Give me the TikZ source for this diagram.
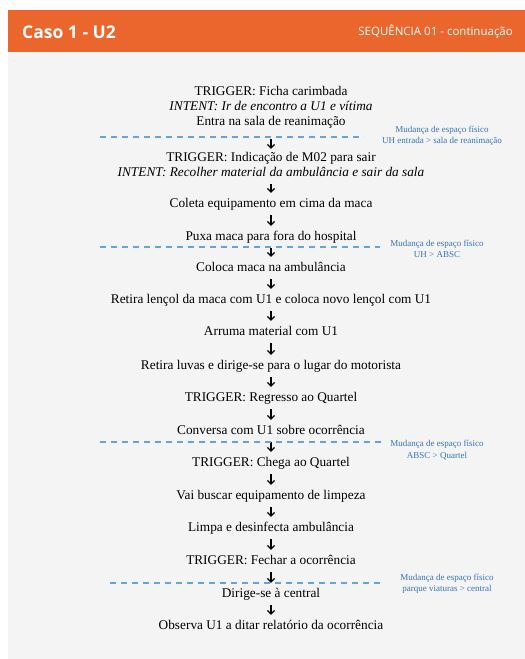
\documentclass[tikz,border=0pt]{standalone}
\usepackage{fontspec}
\setmainfont{Liberation Serif}
\newfontfamily\headfont{Open Sans}
\usetikzlibrary{arrows.meta}

\definecolor{headorange}{RGB}{234,102,44}
\definecolor{panelgray}{RGB}{244,244,244}
\definecolor{sepblue}{RGB}{105,162,215}
\definecolor{noteblue}{RGB}{55,115,185}

\begin{document}
\begin{tikzpicture}[x=1pt,y=-1pt,
  stepnode/.style={inner sep=0pt, text height=9pt, text depth=3pt,
    font=\fontsize{13.3}{15}\selectfont, text=black},
  intentnode/.style={stepnode, font=\fontsize{13.3}{15}\selectfont\itshape},
  flow/.style={-{Straight Barb[length=3.5pt,width=7pt,line width=1.2pt]}, line width=1.2pt,
    shorten <=5pt, shorten >=5pt},
  sepline/.style={sepblue, line width=1.1pt, dash pattern=on 6pt off 5pt},
  note/.style={noteblue, font=\fontsize{9}{11.5}\selectfont, align=center, inner sep=0pt},
]
\useasboundingbox (0,0) rectangle (525,659);

% page background, header bar and content panel
\fill[white] (0,0) rectangle (525,659);
\fill[panelgray] (8,52) rectangle (525,659);
\fill[headorange] (8,10) rectangle (525,52);
\node[anchor=west, text=white, inner sep=0pt, font=\headfont\bfseries\fontsize{17.5}{19}\selectfont]
  (title) at (22,32) {Caso 1 - U2};
\node[anchor=east, text=white, inner sep=0pt, font=\headfont\fontsize{11.5}{13}\selectfont]
  (seq) at (513,32) {SEQUÊNCIA 01 - continuação};

% sequence of steps
\node[stepnode]   (t1)  at (271,92)  {TRIGGER: Ficha carimbada};
\node[intentnode] (i1)  at (271,107) {INTENT: Ir de encontro a U1 e vítima};
\node[stepnode]   (s1)  at (271,122) {Entra na sala de reanimação};
\node[stepnode]   (t2)  at (271,158) {TRIGGER: Indicação de M02 para sair};
\node[intentnode] (i2)  at (271,173) {INTENT: Recolher material da ambulância e sair da sala};
\node[stepnode]   (s2)  at (271,204) {Coleta equipamento em cima da maca};
\node[stepnode]   (s3)  at (271,237) {Puxa maca para fora do hospital};
\node[stepnode]   (s4)  at (271,268) {Coloca maca na ambulância};
\node[stepnode]   (s5)  at (271,300) {Retira lençol da maca com U1 e coloca novo lençol com U1};
\node[stepnode]   (s6)  at (271,332) {Arruma material com U1};
\node[stepnode]   (s7)  at (271,366) {Retira luvas e dirige-se para o lugar do motorista};
\node[stepnode]   (t3)  at (271,398) {TRIGGER: Regresso ao Quartel};
\node[stepnode]   (s8)  at (271,431) {Conversa com U1 sobre ocorrência};
\node[stepnode]   (t4)  at (271,463) {TRIGGER: Chega ao Quartel};
\node[stepnode]   (s9)  at (271,496) {Vai buscar equipamento de limpeza};
\node[stepnode]   (s10) at (271,528) {Limpa e desinfecta ambulância};
\node[stepnode]   (t5)  at (271,561) {TRIGGER: Fechar a ocorrência};
\node[stepnode]   (s11) at (271,594) {Dirige-se à central};
\node[stepnode]   (s12) at (271,626) {Observa U1 a ditar relatório da ocorrência};

% arrows between steps
\draw[flow, shorten <=11pt, shorten >=3pt] (s1) -- (t2);
\foreach \a/\b in {i2/s2, s2/s3, s3/s4, s4/s5, s5/s6, s6/s7, s7/t3, t3/s8,
                   s8/t4, t4/s9, s9/s10, s10/t5, t5/s11, s11/s12}
  \draw[flow] (\a) -- (\b);

% changes of physical space
\draw[sepline] (100,137) -- (364,137);
\draw[sepline] (100,247) -- (380,247);
\draw[sepline] (100,442) -- (382,442);
\draw[sepline] (110,583) -- (383,583);

\node[note] (n1) at (442,136) {Mudança de espaço físico\\UH entrada > sala de reanimação};
\node[note] (n2) at (437,249) {Mudança de espaço físico\\UH > ABSC};
\node[note] (n3) at (437,450) {Mudança de espaço físico\\ABSC > Quartel};
\node[note] (n4) at (447,584) {Mudança de espaço físico\\parque viaturas > central};
\end{tikzpicture}
\end{document}
